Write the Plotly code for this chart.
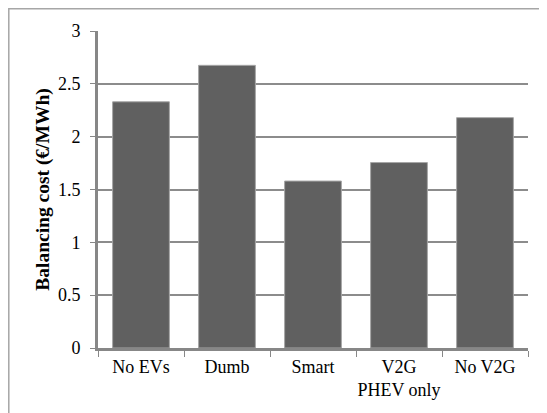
import plotly.graph_objects as go

categories = ["No EVs", "Dumb", "Smart", "V2G<br>PHEV only", "No V2G"]
values = [2.33, 2.675, 1.58, 1.755, 2.18]
y_ticks = [0, 0.5, 1, 1.5, 2, 2.5, 3]
y_tick_labels = ["0", "0.5", "1", "1.5", "2", "2.5", "3"]

fig = go.Figure(go.Bar(
    x=categories, y=values,
    marker=dict(color="#606060", line=dict(color="#a6a6a6", width=1)),
))

OFF = 8  # browser default body margin
W, H = 547 - OFF, 413 - OFF
L, R, T, B = 98 - OFF, 19, 31 - OFF, 65
pw, ph = W - L - R, H - T - B
BX = 0.8  # outer border position in figure pixels

FONT = "Times New Roman, Liberation Serif, DejaVu Serif, serif"

fig.update_layout(
    template="none",
    width=W, height=H,
    margin=dict(l=L, r=R, t=T, b=B),
    paper_bgcolor="white", plot_bgcolor="rgba(0,0,0,0)",
    font=dict(family=FONT, size=18, color="black"),
    bargap=0.34,
    showlegend=False,
    shapes=[dict(type="rect", xref="paper", yref="paper",
                 x0=(BX - L) / pw, x1=1.5, y0=-0.5, y1=(H - B - BX) / ph,
                 line=dict(color="#a6a6a6", width=1.5), fillcolor="rgba(0,0,0,0)",
                 layer="above")],
)
fig.update_xaxes(
    showline=True, linecolor="#878787", linewidth=3,
    ticks="outside", tickson="boundaries", ticklen=6, tickcolor="#878787", tickwidth=1,
    showgrid=False, tickangle=0, tickfont=dict(family=FONT, size=18),
)
fig.update_yaxes(
    range=[0, 3], tickvals=y_ticks, ticktext=y_tick_labels,
    showline=True, linecolor="#878787", linewidth=3,
    ticks="outside", ticklen=5, tickcolor="#878787", tickwidth=1,
    showgrid=True, gridcolor="#8c8c8c", gridwidth=1.5,
    zeroline=False, tickfont=dict(family=FONT, size=18), ticklabelstandoff=6,
    title=dict(text="<b>Balancing cost (€/MWh)</b>", font=dict(family=FONT, size=19.5), standoff=4),
)
fig.write_html("out.html")
